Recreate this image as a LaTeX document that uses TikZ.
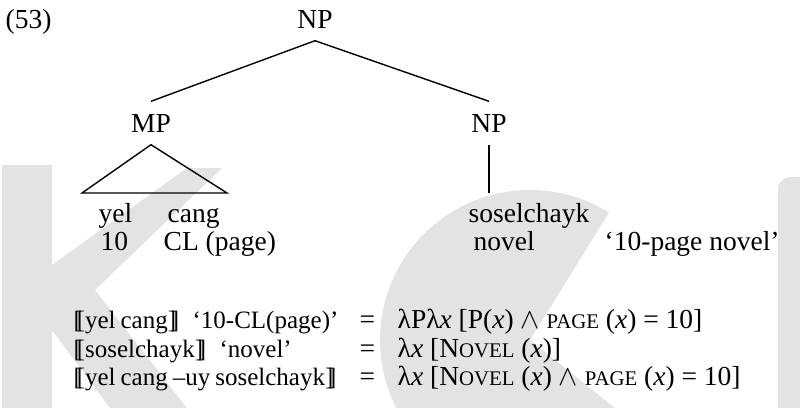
\documentclass[tikz,border=0pt]{standalone}
\usepackage{fontspec}
\setmainfont{Liberation Serif}
\usetikzlibrary{positioning}
\newcommand{\smc}[1]{{\fontsize{10.4}{12}\selectfont #1}}
\newcommand{\lsem}{[\kern-.21em[}
\newcommand{\rsem}{]\kern-.21em]}
\newcommand{\lhsfont}{\fontsize{12.5}{15}\selectfont\spaceskip=.2em plus .1em\relax}

\begin{document}
\begin{tikzpicture}[x=0.5pt, y=-0.5pt, line width=0.7pt,
    every node/.style={font=\fontsize{13.75}{16}\selectfont, inner sep=0pt},
    cat/.style={inner xsep=0pt, inner ysep=6pt, anchor=base},
    word/.style={anchor=base west},
    lhs/.style={anchor=base west, font=\lhsfont}]
  \useasboundingbox (0,0) rectangle (800,408);

  % faint logo behind the text
  \begin{scope}
    \clip (0,0) rectangle (800,408);
    \fill[black!11] (2,165) -- (52,165) -- (52,265) -- (187,168) -- (222,168) -- (95,290)
      -- (187,408) -- (110,408) -- (52,330) -- (52,408) -- (2,408) -- cycle;
    \begin{scope}
      \clip (530,340) circle[radius=150];
      \fill[black!11] (530,340) -- (725,496) -- (300,600) -- (280,80) -- (662,127) -- cycle;
    \end{scope}
    \fill[black!11, rounded corners=6pt] (778,177) rectangle (830,430);
  \end{scope}

  \node[word] (ex) at (5,28) {(53)};

  \node[cat] (np) at (315,28) {NP};
  \node[cat] (mp) at (151,132) {MP};
  \node[cat] (np2) at (489,132) {NP};
  \coordinate (tl) at (82,193);
  \coordinate (tr) at (227,193);
  \coordinate (leaf) at (489,193);

  \draw (np.south) -- (mp.north);
  \draw (np.south) -- (np2.north);
  \draw (mp.south) -- (tl) -- (tr) -- cycle;
  \draw (np2.south) -- (leaf);

  \node[word] (yel) at (98,222) {yel};
  \node[word] (cang) at (167,222) {cang};
  \node[word] (ten) at (100,250) {10};
  \node[word] (cl) at (163,250) {CL (page)};
  \node[word] (sosel) at (468,222) {soselchayk};
  \node[word] (novel) at (473,250) {novel};
  \node[word] (trans) at (604,250) {`10-page novel'};

  \node[lhs] (d1) at (73,328) {\lsem yel cang\rsem};
  \node[lhs, base right=6pt of d1] (e1) {`10-CL(page)'};
  \node[word] (q1) at (359,328) {=};
  \node[word] (r1) at (397,328) {λPλ\textit{x} [P(\textit{x}) $\wedge$ \smc{PAGE} (\textit{x}) = 10]};

  \node[lhs] (d2) at (73,357) {\lsem soselchayk\rsem};
  \node[lhs, base right=6pt of d2] (e2) {`novel'};
  \node[word] (q2) at (359,357) {=};
  \node[word] (r2) at (397,357) {λ\textit{x} [N\smc{OVEL} (\textit{x})]};

  \node[lhs] (d3) at (73,385) {\lsem yel cang --uy soselchayk\rsem};
  \node[word] (q3) at (359,385) {=};
  \node[word] (r3) at (397,385) {λ\textit{x} [N\smc{OVEL} (\textit{x}) $\wedge$ \smc{PAGE} (\textit{x}) = 10]};
\end{tikzpicture}
\end{document}
